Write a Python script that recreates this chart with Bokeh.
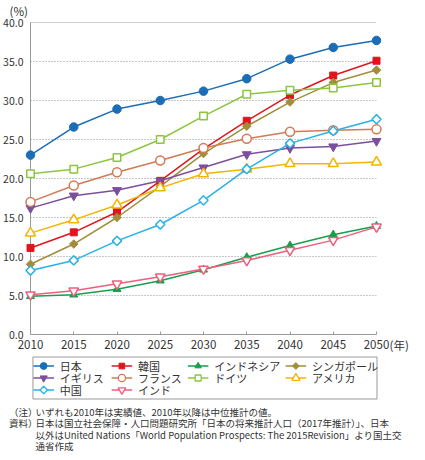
import math
from bokeh.plotting import figure
from bokeh.layouts import column
from bokeh.models import Span, FixedTicker, NumeralTickFormatter, Range1d
from bokeh.core.properties import value
from bokeh.embed import file_html
from bokeh.resources import INLINE

years = [2010, 2015, 2020, 2025, 2030, 2035, 2040, 2045, 2050]
japan = [23.0, 26.6, 28.9, 30.0, 31.2, 32.8, 35.3, 36.8, 37.7]
korea = [11.1, 13.1, 15.7, 19.7, 23.8, 27.4, 30.7, 33.2, 35.1]
indonesia = [4.9, 5.1, 5.8, 6.9, 8.3, 9.9, 11.4, 12.8, 13.9]
singapore = [9.0, 11.6, 15.0, 19.0, 23.2, 26.7, 29.8, 32.3, 33.9]
uk = [16.2, 17.8, 18.5, 19.7, 21.4, 23.1, 23.9, 24.1, 24.8]
france = [17.0, 19.1, 20.8, 22.3, 23.9, 25.1, 26.0, 26.2, 26.3]
germany = [20.6, 21.2, 22.7, 25.0, 28.0, 30.8, 31.3, 31.6, 32.3]
usa = [13.0, 14.7, 16.6, 18.8, 20.6, 21.2, 21.9, 21.9, 22.1]
china = [8.2, 9.5, 12.0, 14.1, 17.2, 21.2, 24.5, 26.1, 27.6]
india = [5.1, 5.6, 6.5, 7.4, 8.4, 9.5, 10.8, 12.1, 13.8]

names = ["日本", "韓国", "インドネシア", "シンガポール", "イギリス",
         "フランス", "ドイツ", "アメリカ", "中国", "インド"]
series = [japan, korea, indonesia, singapore, uk, france, germany, usa, china, india]
colors = ["#1b6db5", "#e1141e", "#16a04a", "#a18e3c", "#7c4f9e",
          "#d27b53", "#8cc63f", "#f5b400", "#29b1e8", "#ec5f7d"]
y_ticks = [0, 5, 10, 15, 20, 25, 30, 35, 40]

note_heads = ["（注）", "資料）"]
note_lines = [
    "いずれも2010年は実績値、2010年以降は中位推計の値。",
    "日本は国立社会保障・人口問題研究所「日本の将来推計人口（2017年推計）」、日本",
    "以外はUnited Nations「World Population Prospects: The 2015Revision」より国土交",
    "通省作成",
]

# marker styles: (marker, filled, size, angle)
styles = [
    ("circle", True, 8.5, 0.0),
    ("square", True, 7, 0.0),
    ("triangle", True, 8, 0.0),
    ("square", True, 6, math.pi / 4),
    ("inverted_triangle", True, 9, 0.0),
    ("circle", False, 9, 0.0),
    ("square", False, 7.5, 0.0),
    ("triangle", False, 10, 0.0),
    ("square", False, 6.5, math.pi / 4),
    ("inverted_triangle", False, 9.5, 0.0),
]

FONT = "Noto Sans CJK JP"
TXT = "#333333"
AX = "#9a9a9a"
W = 409
TOP_H = 356
BOT_H = 96
FL, FR = 22, 33

# ---------------- main chart ----------------
p = figure(width=W, height=TOP_H, x_range=(2010, 2050), y_range=(0, 40),
           output_backend="svg", toolbar_location=None,
           min_border_left=FL, min_border_right=FR, min_border_top=22, min_border_bottom=22,
           background_fill_color="white", border_fill_color="white")
p.outline_line_color = None

p.xaxis.ticker = FixedTicker(ticks=years)
p.yaxis.ticker = FixedTicker(ticks=y_ticks)
p.yaxis.formatter = NumeralTickFormatter(format="0.0")
for ax in (p.xaxis[0], p.yaxis[0]):
    ax.axis_line_color = AX
    ax.axis_line_width = 1
    ax.major_label_text_font = FONT
    ax.major_label_text_color = TXT
    ax.minor_tick_line_color = None
p.yaxis.major_tick_line_color = None
p.yaxis.major_label_standoff = 1
p.yaxis.major_label_text_font_size = "10.5px"
p.xaxis.major_tick_in = 3
p.xaxis.major_tick_out = 0
p.xaxis.major_tick_line_color = AX
p.xaxis.major_label_standoff = 5
p.xaxis.major_label_text_font_size = "11.5px"
p.xgrid.visible = False
p.ygrid.grid_line_color = "#8c8c8c"
p.ygrid.grid_line_dash = "1 2"
p.ygrid.grid_line_width = 1
p.add_layout(Span(location=40, dimension="width", line_color=AX, line_width=1))

for vals, col, (mk, filled, sz, ang) in zip(series, colors, styles):
    p.line(years, vals, line_color=col, line_width=1.5, level="overlay")
    p.scatter(years, vals, marker=mk, size=sz, angle=ang,
              fill_color=col if filled else "white", line_color=col,
              line_width=1.0 if filled else 1.5, level="overlay")

p.text(x=[years[0]], y=[y_ticks[-1]], text=["(%)"], x_offset=-21, y_offset=-12,
       level="overlay", text_font=value(FONT), text_font_size="11.5px",
       text_color=TXT, text_baseline="middle", text_align="left")
p.text(x=[years[-1]], y=[y_ticks[0]], text=["(年)"], x_offset=13, y_offset=10,
       level="overlay", text_font=value(FONT), text_font_size="11.5px",
       text_color=TXT, text_baseline="middle", text_align="left")

# ---------------- legend + notes (x in canvas px, y in px from top) ----------------
q = figure(width=W, height=BOT_H, x_range=Range1d(FL, W - FR), y_range=Range1d(BOT_H, 0),
           output_backend="svg", toolbar_location=None,
           x_axis_location=None, y_axis_location=None,
           min_border_left=FL, min_border_right=FR, min_border_top=0, min_border_bottom=0,
           background_fill_color="white", border_fill_color="white")
q.outline_line_color = None
q.grid.visible = False

q.quad(left=[24.5], right=[376.5], top=[0.5], bottom=[42.5], level="overlay",
       fill_color="white", line_color=AX, line_width=1)

col_x = [25, 105, 183, 283]   # legend column starts
row_y = [9.5, 21.5, 33.5]     # legend row centres
GLYPH_W = 21
for i, (name, col, (mk, filled, sz, ang)) in enumerate(zip(names, colors, styles)):
    x0 = col_x[i % 4]
    yy = row_y[i // 4]
    q.segment(x0=[x0], y0=[yy], x1=[x0 + GLYPH_W], y1=[yy], level="overlay",
              line_color=col, line_width=1.5)
    q.scatter(x=[x0 + GLYPH_W / 2], y=[yy], marker=mk, size=sz * 0.8, angle=ang,
              level="overlay", fill_color=col if filled else "white", line_color=col,
              line_width=1.0 if filled else 1.3)
    q.text(x=[x0 + GLYPH_W + 6], y=[yy], text=[name], level="overlay",
           text_font=value(FONT), text_font_size="11px", text_color=TXT,
           text_baseline="middle", text_align="left")

q.text(x=[0, 0], y=[55, 66.5], text=note_heads, level="overlay", text_font=value(FONT),
       text_font_size="9.5px", text_color=TXT, text_baseline="middle", text_align="left")
q.text(x=[27, 27, 27, 27], y=[55, 66.5, 78, 89], text=note_lines, level="overlay",
       text_font=value(FONT), text_font_size="9.5px", text_color=TXT,
       text_baseline="middle", text_align="left")

layout = column(p, q, spacing=0)
open("out.html", "w").write(file_html(layout, INLINE))
